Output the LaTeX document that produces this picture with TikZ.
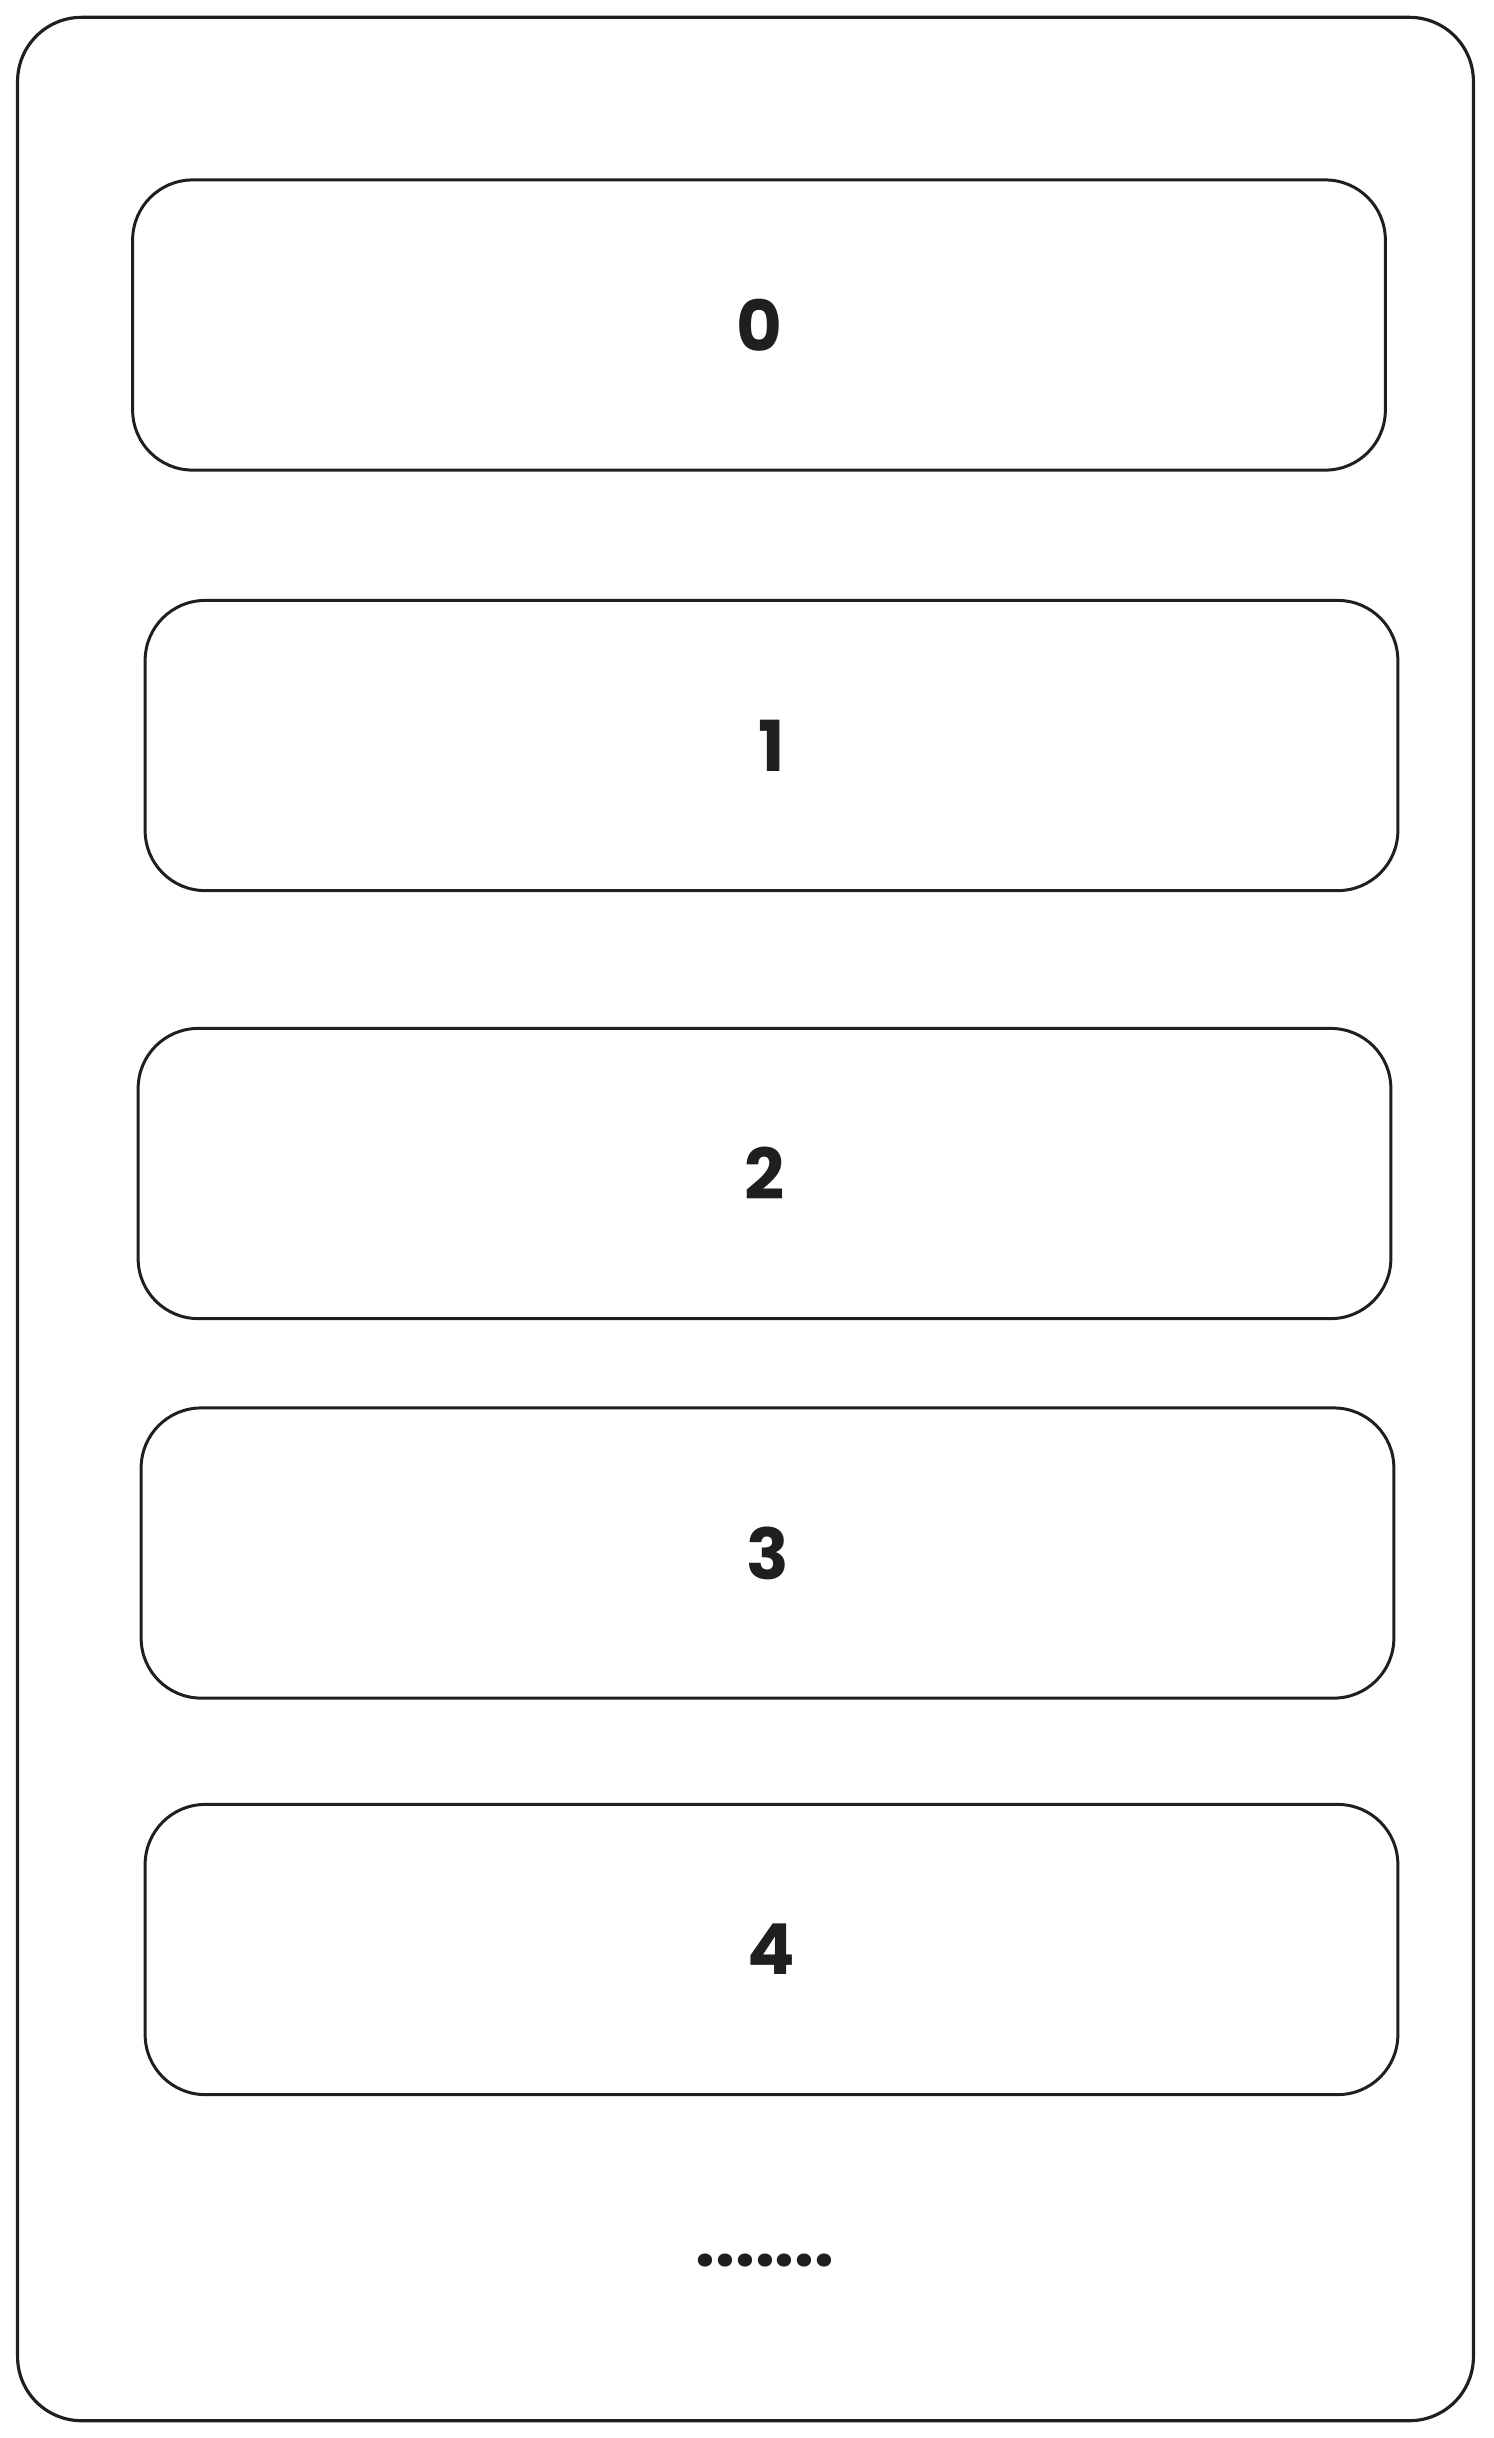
\documentclass[tikz,border=0pt]{standalone}
\usepackage{fontspec}
\setmainfont{Poppins}
\begin{document}
\begin{tikzpicture}[x=0.01cm,y=-0.01cm,
  outerbox/.style={draw=black!88, line width=0.9pt, rounded corners=0.64cm, inner sep=0pt,
    minimum width=14.55cm, minimum height=24.02cm},
  slotbox/.style={draw=black!88, line width=0.85pt, rounded corners=0.6cm, inner sep=0pt,
    minimum width=12.52cm, minimum height=2.90cm,
    font=\fontsize{20}{24}\selectfont\bfseries, text=black!88},
  dotstext/.style={inner sep=0pt, font=\fontsize{20}{24}\selectfont\bfseries, text=black!88}]
\useasboundingbox (0,0) rectangle (1493,2438);
\node[outerbox] (outer) at (745.5,1219) {};
\node[slotbox] (b0) at (759,325) {0};
\node[slotbox] (b1) at (771.5,745.5) {1};
\node[slotbox] (b2) at (764.5,1173.5) {2};
\node[slotbox] (b3) at (767.5,1553) {3};
\node[slotbox] (b4) at (771.5,1949.5) {4};
\node[dotstext, anchor=base] (dots) at (765,2266) {.......};
\end{tikzpicture}
\end{document}
